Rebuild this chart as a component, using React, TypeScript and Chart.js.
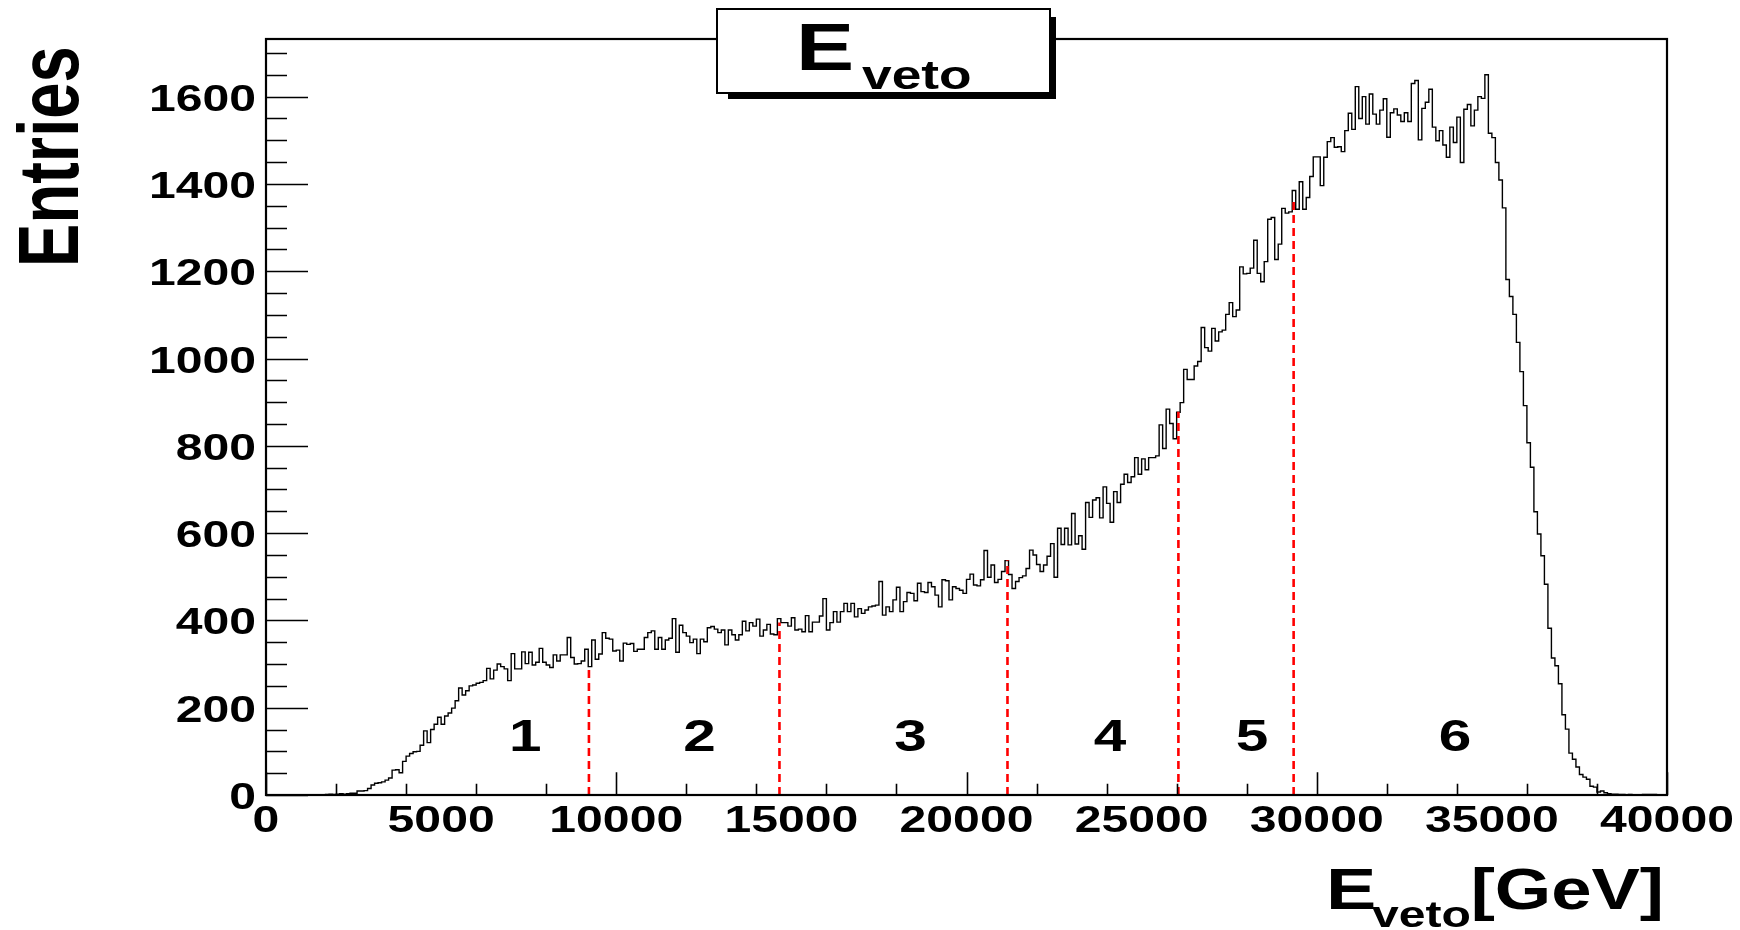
import React, { useEffect, useRef } from 'react';
import { Chart, registerables } from 'chart.js';

Chart.register(...registerables);

// ---------------- data ----------------
const BIN_WIDTH = 100; // GeV per bin
const X_MIN = 0;
const X_MAX = 40000;
const Y_MAX = 1732;

const entries0to5k = [
  0, 0, 0, 0, 0, 0, 0, 0, 0, 0, 0, 0, 0, 0, 0, 0, 0, 1, 2, 1,
  2, 3, 2, 3, 4, 4, 9, 9, 10, 15, 23, 27, 28, 30, 34, 39, 57, 58, 51, 77,
  89, 95, 99, 100, 114, 147, 120, 150, 162, 178,
];
const entries5to10k = [
  162, 181, 188, 199, 216, 245, 229, 239, 250, 252, 256, 258, 262, 290, 266, 286, 300, 294, 289, 262,
  324, 289, 289, 328, 301, 327, 298, 304, 336, 304, 298, 292, 321, 307, 321, 321, 361, 315, 300, 301,
  307, 334, 294, 355, 311, 323, 372, 359, 357, 330,
];
const entries10to15k = [
  332, 307, 348, 345, 347, 329, 334, 334, 361, 372, 376, 334, 361, 334, 355, 359, 404, 327, 389, 372,
  364, 349, 357, 324, 357, 351, 383, 386, 380, 372, 378, 344, 378, 367, 355, 367, 398, 376, 395, 387,
  403, 364, 378, 391, 369, 367, 404, 395, 395, 387,
];
const entries15to20k = [
  406, 378, 380, 374, 411, 374, 396, 396, 410, 450, 378, 395, 420, 396, 420, 439, 420, 439, 408, 427,
  416, 424, 431, 433, 435, 489, 412, 431, 420, 447, 476, 420, 443, 464, 462, 445, 485, 466, 464, 487,
  477, 458, 431, 493, 491, 447, 477, 473, 469, 462,
];
const entries20to25k = [
  494, 506, 481, 479, 493, 560, 499, 527, 487, 494, 512, 537, 505, 473, 489, 498, 502, 519, 561, 550,
  528, 512, 527, 547, 576, 499, 611, 574, 611, 573, 645, 575, 594, 563, 670, 636, 676, 681, 635, 706,
  668, 625, 695, 670, 712, 735, 716, 729, 773, 735,
];
const entries25to30k = [
  770, 745, 773, 773, 777, 848, 794, 884, 851, 816, 877, 899, 975, 952, 952, 983, 993, 1071, 1025, 1017,
  1069, 1040, 1061, 1065, 1101, 1128, 1096, 1111, 1210, 1194, 1195, 1207, 1271, 1195, 1176, 1222, 1319, 1323, 1227, 1262,
  1344, 1333, 1336, 1385, 1342, 1405, 1342, 1369, 1417, 1462,
];
const entries30to35k = [
  1462, 1396, 1461, 1497, 1506, 1484, 1485, 1474, 1522, 1562, 1525, 1623, 1550, 1600, 1537, 1606, 1560, 1537, 1569, 1595,
  1507, 1563, 1572, 1558, 1543, 1563, 1543, 1630, 1637, 1501, 1573, 1587, 1617, 1530, 1499, 1522, 1489, 1461, 1530, 1495,
  1553, 1449, 1571, 1582, 1533, 1569, 1600, 1596, 1650, 1516,
];
const entries35to40k = [
  1506, 1449, 1409, 1345, 1181, 1142, 1101, 1037, 970, 892, 807, 751, 649, 598, 548, 483, 382, 314, 296, 255,
  184, 151, 96, 82, 64, 47, 41, 36, 20, 18, 7, 9, 5, 3, 2, 2, 1, 1, 0, 1,
  0, 0, 0, 1, 1, 1, 1, 0, 0, 0,
];

const cutPositions = [9220, 14660, 21170, 26050, 29340];
const cutHeights = [294, 395, 538, 878, 1367];

const regionLabels = ['1', '2', '3', '4', '5', '6'];
const regionCenters = [7400, 12380, 18400, 24100, 28150, 33950];
const regionLabelValue = 100;

const xMajorTicks = [0, 5000, 10000, 15000, 20000, 25000, 30000, 35000, 40000];
const xTickLabels = ['0', '5000', '10000', '15000', '20000', '25000', '30000', '35000', '40000'];
const xMinorStep = 1000;
const yMajorTicks = [0, 200, 400, 600, 800, 1000, 1200, 1400, 1600];
const yTickLabels = ['0', '200', '400', '600', '800', '1000', '1200', '1400', '1600'];
const yMinorStep = 50;

const titleMain = 'E';
const titleSub = 'veto';
const xTitleMain = 'E';
const xTitleSub = 'veto';
const xTitleUnit = '[GeV]';
const yTitle = 'Entries';

// ---------------- helpers ----------------
const FONT = '"Liberation Sans", Arial, Helvetica, sans-serif';
const STRETCH = 1.3;

function drawText(
  ctx: CanvasRenderingContext2D,
  text: string,
  x: number,
  y: number,
  size: number,
  align: 'left' | 'center' | 'right',
  sx: number = STRETCH,
) {
  ctx.save();
  ctx.font = `bold ${size}px ${FONT}`;
  ctx.textBaseline = 'alphabetic';
  ctx.textAlign = 'left';
  const w = ctx.measureText(text).width * sx;
  const x0 = align === 'left' ? x : align === 'center' ? x - w / 2 : x - w;
  ctx.translate(x0, y);
  ctx.scale(sx, 1);
  ctx.fillStyle = '#000';
  ctx.fillText(text, 0, 0);
  ctx.restore();
  return w;
}

const rootPlugin = {
  id: 'rootStyle',
  afterDraw(chart: any) {
    const { ctx, chartArea: ca } = chart;
    const xs = chart.scales.x;
    const ys = chart.scales.y;
    ctx.save();

    // tick marks (inward)
    ctx.strokeStyle = '#000';
    ctx.lineWidth = 1.6;
    ctx.beginPath();
    xs.ticks.forEach((t: any) => {
      const px = Math.round(xs.getPixelForValue(t.value)) + 0.5;
      const major = xMajorTicks.includes(t.value);
      const len = major ? 22.7 : 11.3;
      ctx.moveTo(px, ca.bottom);
      ctx.lineTo(px, ca.bottom - len);
    });
    ys.ticks.forEach((t: any) => {
      const py = Math.round(ys.getPixelForValue(t.value)) + 0.5;
      const major = yMajorTicks.includes(t.value);
      const len = major ? 42 : 21;
      ctx.moveTo(ca.left, py);
      ctx.lineTo(ca.left + len, py);
    });
    ctx.stroke();

    // frame
    ctx.lineWidth = 2.2;
    ctx.strokeRect(ca.left, ca.top, ca.right - ca.left, ca.bottom - ca.top);

    // tick labels
    yMajorTicks.forEach((v, i) => {
      const py = ys.getPixelForValue(v);
      drawText(ctx, yTickLabels[i], ca.left - 10, py + 14, 37, 'right');
    });
    xMajorTicks.forEach((v, i) => {
      const px = xs.getPixelForValue(v);
      drawText(ctx, xTickLabels[i], px, ca.bottom + 37, 37, 'center');
    });

    // region numbers
    regionLabels.forEach((lab, i) => {
      drawText(ctx, lab, xs.getPixelForValue(regionCenters[i]), ys.getPixelForValue(regionLabelValue), 45, 'center');
    });

    // title box with shadow
    const bx = 717, by = 9, bw = 333, bh = 84;
    ctx.fillStyle = '#000';
    ctx.fillRect(bx + 11, by + 8, bw - 5, bh - 2);
    ctx.fillStyle = '#fff';
    ctx.fillRect(bx, by, bw, bh);
    ctx.strokeStyle = '#000';
    ctx.lineWidth = 2;
    ctx.strokeRect(bx, by, bw, bh);
    drawText(ctx, titleMain, 796, 70, 67, 'left');
    drawText(ctx, titleSub, 862, 89, 41, 'left');

    // x axis title
    drawText(ctx, xTitleMain, 1326, 909, 58, 'left');
    drawText(ctx, xTitleSub, 1372, 927, 37, 'left');
    drawText(ctx, xTitleUnit, 1664, 909, 58, 'right', 1.25);

    // y axis title (rotated)
    ctx.save();
    ctx.font = `bold 62px ${FONT}`;
    ctx.textAlign = 'left';
    ctx.textBaseline = 'alphabetic';
    ctx.fillStyle = '#000';
    ctx.translate(78, 267);
    ctx.rotate(-Math.PI / 2);
    ctx.scale(1.05, 1.36);
    ctx.fillText(yTitle, 0, 0);
    ctx.restore();

    ctx.restore();
  },
};

export default function App() {
  const canvasRef = useRef<HTMLCanvasElement | null>(null);

  useEffect(() => {
    const canvas = canvasRef.current;
    if (!canvas) return;

    const allEntries = [
      ...entries0to5k, ...entries5to10k, ...entries10to15k, ...entries15to20k,
      ...entries20to25k, ...entries25to30k, ...entries30to35k, ...entries35to40k,
    ];
    const histPoints = allEntries.map((v, i) => ({ x: X_MIN + i * BIN_WIDTH, y: v }));
    histPoints.push({ x: X_MAX, y: 0 });

    const cutDatasets = cutPositions.map((c, i) => ({
      type: 'line' as const,
      data: [{ x: c, y: 0 }, { x: c, y: cutHeights[i] }],
      borderColor: '#ff0000',
      borderWidth: 2.6,
      borderDash: [8, 5],
      pointRadius: 0,
      order: 0,
    }));

    const chart = new Chart(canvas, {
      type: 'line',
      data: {
        datasets: [
          ...cutDatasets,
          {
            data: histPoints,
            borderColor: '#000',
            borderWidth: 1.4,
            stepped: true,
            pointRadius: 0,
            fill: false,
            order: 1,
          },
        ] as any,
      },
      options: {
        animation: false,
        responsive: false,
        devicePixelRatio: 1,
        layout: { padding: { left: 266, right: 73, top: 39, bottom: 135 } },
        plugins: { legend: { display: false }, tooltip: { enabled: false }, title: { display: false } },
        events: [],
        scales: {
          x: {
            type: 'linear',
            min: X_MIN,
            max: X_MAX,
            display: false,
            afterBuildTicks: (scale: any) => {
              const t = [];
              for (let v = X_MIN; v <= X_MAX; v += xMinorStep) t.push({ value: v });
              scale.ticks = t;
            },
          },
          y: {
            type: 'linear',
            min: 0,
            max: Y_MAX,
            display: false,
            afterBuildTicks: (scale: any) => {
              const t = [];
              for (let v = 0; v <= Y_MAX; v += yMinorStep) t.push({ value: v });
              scale.ticks = t;
            },
          },
        },
      },
      plugins: [rootPlugin],
    });

    return () => chart.destroy();
  }, []);

  return (
    <div style={{ position: 'fixed', left: 0, top: 0, width: 1740, height: 930, background: '#fff' }}>
      <canvas ref={canvasRef} width={1740} height={930} style={{ display: 'block', width: 1740, height: 930 }} />
    </div>
  );
}
